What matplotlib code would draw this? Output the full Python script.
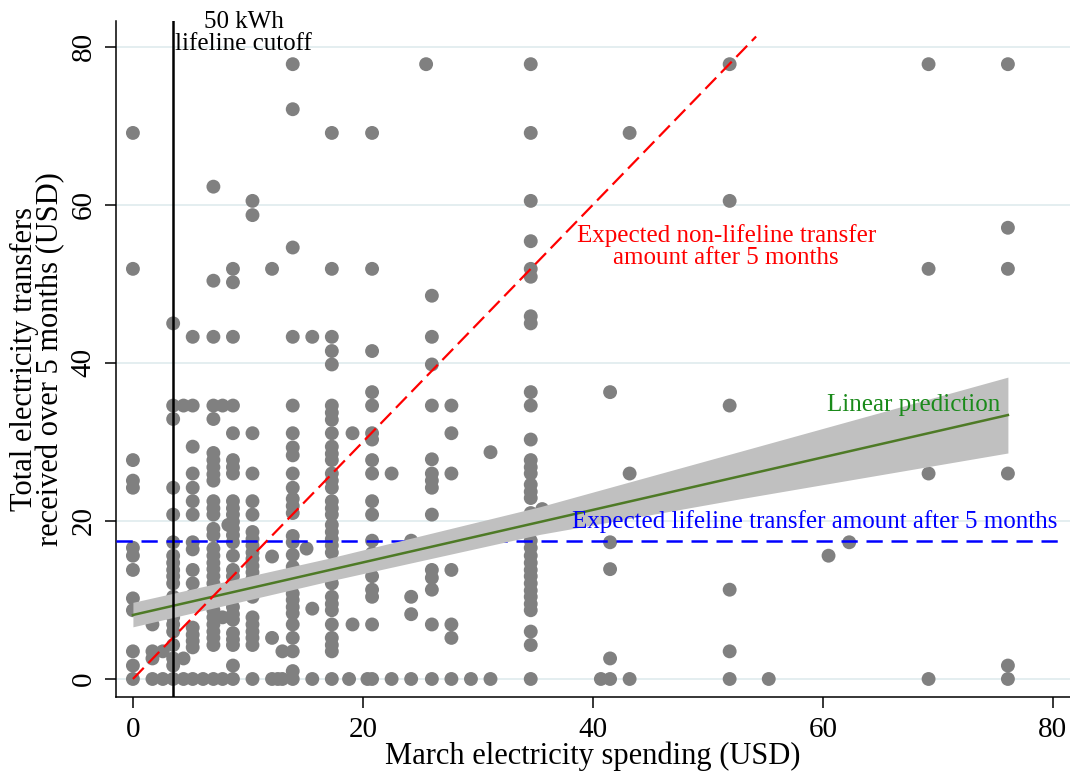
import numpy as np
import matplotlib
matplotlib.use('Agg')
import matplotlib.pyplot as plt

plt.rcParams['font.family'] = ['Liberation Serif', 'DejaVu Serif']

# March spending levels (USD) and the transfers observed at each level (USD)
spend_levels = [0.0, 1.7, 2.6, 3.5, 4.4, 5.2, 6.1, 7.0, 7.8, 8.3, 8.7, 10.4, 12.1, 12.6,
                13.0, 13.9, 15.1, 15.6, 17.3, 18.8, 19.1, 20.4, 20.8, 22.5, 24.2, 25.5,
                26.0, 27.7, 29.4, 31.1, 34.6, 35.6, 40.7, 41.5, 43.2, 51.9, 55.3, 60.5,
                62.3, 69.2, 76.1]
transfers_at_level = [
    [69.1, 51.9, 27.7, 25.1, 24.2, 16.6, 15.6, 13.8, 10.2, 8.7, 3.5, 1.7, 0],
    [6.9, 3.5, 2.6, 0],
    [3.5, 0],
    [45.0, 34.6, 32.9, 24.2, 20.8, 17.3, 15.6, 14.7, 13.8, 13.0, 12.1, 10.4, 9.5, 7.8,
     6.9, 6.0, 4.3, 2.6, 1.7, 0],
    [34.6, 2.6, 0],
    [43.3, 34.6, 29.4, 26.0, 24.2, 22.5, 20.8, 17.3, 16.4, 13.8, 12.1, 10.6, 6.5, 5.6,
     4.8, 4.0, 0],
    [0],
    [62.3, 50.4, 43.3, 34.6, 32.9, 28.6, 27.7, 26.8, 25.9, 25.1, 22.5, 21.6, 20.8, 19.0,
     18.2, 16.5, 15.6, 14.7, 13.9, 13.0, 12.1, 11.3, 10.4, 9.5, 8.7, 7.8, 6.9, 6.0, 5.2,
     4.3, 0],
    [34.6, 7.8, 0],
    [19.5],
    [51.9, 50.2, 43.3, 34.6, 31.1, 27.7, 26.8, 26.0, 22.5, 21.6, 20.8, 19.9, 19.0, 18.2,
     17.3, 15.6, 13.8, 13.0, 12.1, 9.1, 8.2, 7.5, 5.8, 5.0, 4.3, 1.7, 0],
    [60.5, 58.7, 31.1, 26.0, 22.5, 20.8, 18.6, 17.7, 16.9, 16.0, 15.2, 14.3, 13.5, 12.7,
     10.4, 7.8, 6.9, 6.0, 5.2, 4.3, 0],
    [51.9, 15.5, 5.2, 0],
    [0],
    [3.5, 0],
    [77.8, 72.1, 54.6, 43.3, 34.6, 31.1, 29.3, 28.3, 26.0, 24.2, 22.8, 21.9, 21.0, 18.1,
     17.3, 15.7, 14.2, 10.8, 10.0, 9.1, 8.3, 6.9, 5.2, 3.5, 1.0, 0],
    [16.5],
    [43.3, 8.9, 0],
    [69.1, 51.9, 43.3, 41.5, 39.8, 34.6, 33.7, 32.8, 31.1, 29.4, 28.5, 27.7, 26.0, 25.1,
     24.2, 22.5, 21.6, 20.8, 19.5, 18.6, 17.7, 16.9, 16.0, 13.8, 13.0, 12.1, 10.4, 9.5,
     8.7, 6.9, 5.2, 4.3, 3.5, 0],
    [0],
    [31.1, 6.9],
    [0],
    [69.1, 51.9, 41.5, 36.3, 34.6, 31.1, 30.3, 27.7, 26.0, 22.5, 20.8, 17.5, 15.9, 13.0,
     11.3, 10.4, 6.9, 0],
    [26.0, 0],
    [17.5, 10.4, 8.2, 0],
    [77.8],
    [48.5, 43.3, 39.8, 34.6, 27.8, 26.0, 25.1, 24.2, 20.8, 13.8, 12.8, 11.3, 6.9, 0],
    [34.6, 31.1, 26.0, 13.8, 6.9, 5.2, 0],
    [0],
    [28.7, 0],
    [77.8, 69.1, 60.5, 55.4, 51.9, 50.9, 45.9, 45.0, 36.3, 34.6, 30.3, 27.7, 26.8, 26.0,
     24.6, 23.7, 22.9, 21.0, 17.5, 16.6, 15.6, 14.7, 13.8, 13.0, 12.1, 11.2, 10.4, 9.5,
     8.7, 6.0, 4.3, 0],
    [21.5],
    [0],
    [36.3, 17.3, 13.9, 2.6, 0],
    [69.1, 26.0, 0],
    [77.8, 60.5, 34.6, 11.3, 3.5, 0],
    [0],
    [15.6],
    [17.3],
    [77.8, 51.9, 26.0, 0],
    [77.8, 57.1, 51.9, 26.0, 1.7, 0],
]

# linear prediction and its confidence band
fit_x = [0.0, 76.1]
fit_y = [8.1, 33.4]
band_x = [0.0, 17.1, 35.4, 52.8, 76.1]
band_lo = [6.6, 12.4, 18.3, 22.8, 28.6]
band_hi = [9.7, 15.3, 21.8, 28.8, 38.2]

# reference lines
cutoff_spend = 3.5
lifeline_amount = 17.4
nonlifeline_x = [0.0, 54.2]
nonlifeline_y = [0.0, 81.3]

x_pts = np.concatenate([[s] * len(t) for s, t in zip(spend_levels, transfers_at_level)])
y_pts = np.concatenate([np.asarray(t, dtype=float) for t in transfers_at_level])

fig = plt.figure(figsize=(10.7, 7.73), dpi=100)
ax = fig.add_axes([0.1081, 0.0977, 0.8919, 0.8755])
ax.set_xlim(-1.5, 81.5)
ax.set_ylim(-2.34, 83.3)

for v in [0, 20, 40, 60, 80]:
    ax.axhline(v, color='#e4eef0', linewidth=1.4, zorder=0)

ax.scatter(x_pts, y_pts, s=100, color='#808080', edgecolors='none', zorder=2)

ax.plot([-1.5, 80.5], [lifeline_amount] * 2, color='#0000ff', linewidth=1.8,
        dashes=(6.5, 3.5), zorder=3)
ax.fill_between(band_x, band_lo, band_hi, color='#c0c0c0', linewidth=0, zorder=4)
ax.plot(fit_x, fit_y, color='#4e7a26', linewidth=1.8, zorder=5)
ax.plot(nonlifeline_x, nonlifeline_y, color='#ff0000', linewidth=1.6,
        dashes=(7, 3), zorder=6)
ax.axvline(cutoff_spend, color='black', linewidth=1.8, zorder=7)

ax.text(9.65, 81.7, '50 kWh\nlifeline cutoff', ha='center', va='center',
        fontsize=18, linespacing=1.0, zorder=8)
ax.text(51.6, 54.7, 'Expected non-lifeline transfer\namount after 5 months',
        ha='center', va='center', color='#ff0000', fontsize=18, linespacing=1.0, zorder=8)
ax.text(75.4, 34.7, 'Linear prediction', ha='right', va='center',
        color='#1a8a1a', fontsize=18, zorder=8)
ax.text(38.2, 19.9, 'Expected lifeline transfer amount after 5 months', ha='left',
        va='center', color='#0000ff', fontsize=18, zorder=8)

for side in ['top', 'right']:
    ax.spines[side].set_visible(False)
for side in ['left', 'bottom']:
    ax.spines[side].set_linewidth(1.1)

ax.set_xticks([0, 20, 40, 60, 80])
ax.set_yticks([0, 20, 40, 60, 80])
ax.set_yticklabels(['0', '20', '40', '60', '80'], rotation=90, va='center')
ax.tick_params(direction='out', length=7.7, width=1.1, labelsize=21, pad=6)

ax.set_xlabel('March electricity spending (USD)', fontsize=22, labelpad=-1)
ax.set_ylabel('Total electricity transfers\nreceived over 5 months (USD)', fontsize=22,
              labelpad=4, linespacing=0.85)

fig.savefig('out.png', dpi=100)
